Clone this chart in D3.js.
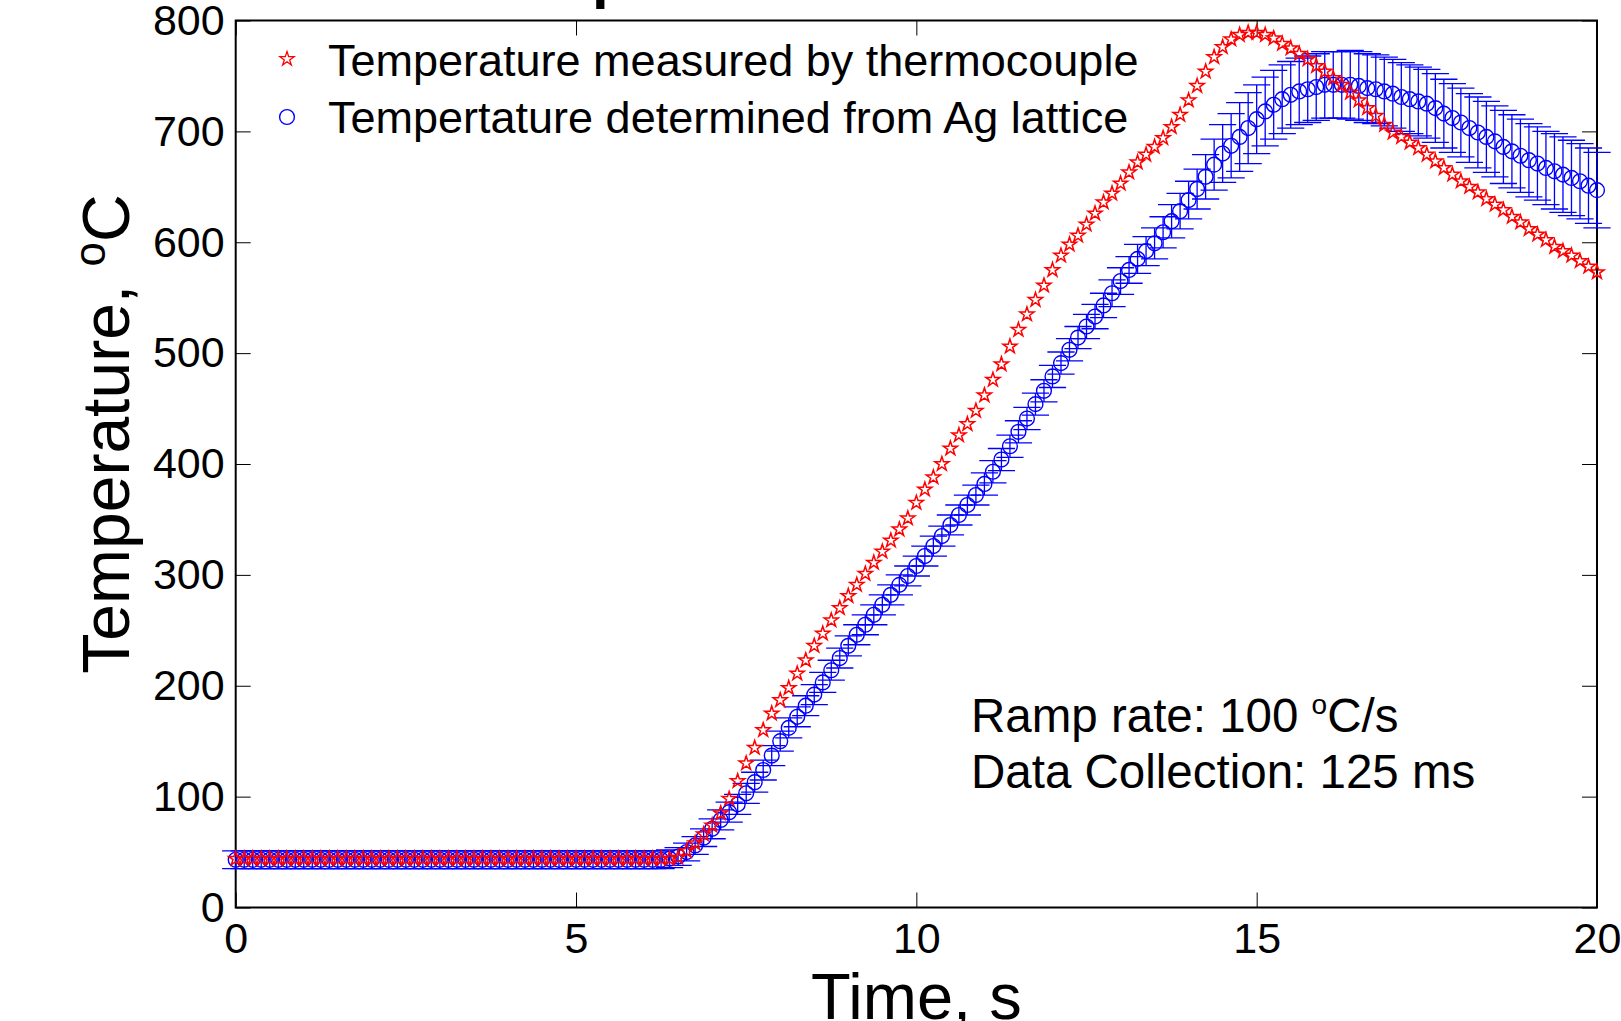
<!DOCTYPE html>
<html>
<head>
<meta charset="utf-8">
<script src="https://cdn.jsdelivr.net/npm/d3@7"></script>
<style>
  html, body { margin: 0; padding: 0; background: #ffffff; }
  svg { display: block; }
  text { font-family: "Liberation Sans", Arial, Helvetica, sans-serif; fill: #000; }
</style>
</head>
<body>
<svg id="chart" width="1621" height="1021"></svg>
<script>
// ---------------- data ----------------
const sampleInterval = 0.125; // s (data collection: 125 ms)

// Temperature measured by thermocouple (°C), one value per 125 ms, t = 0 ... 20 s
const thermocoupleT = [
  44,44,44,44,44,44,44,44,44,44,
  44,44,44,44,44,44,44,44,44,44,
  44,44,44,44,44,44,44,44,44,44,
  44,44,44,44,44,44,44,44,44,44,
  44,44,44,44,44,44,44,44,44,44,
  44,44,45,51,58,66,74,85,98,114,
  130,144,160,175,187,198,211,223,236,247,
  259,270,281,291,301,311,321,331,341,351,
  365,377,388,400,414,426,436,448,462,476,
  490,506,521,535,548,561,575,588,598,606,
  616,626,636,644,653,663,672,679,686,694,
  704,715,728,741,754,767,776,783,787,789,
  789,787,784,779,775,770,765,759,754,748,
  742,735,728,721,714,706,699,695,690,685,
  679,673,667,661,655,650,645,639,634,629,
  623,618,612,607,602,596,592,588,583,578,
  573
];

// Temperature determined from Ag lattice (°C)
const latticeT = [
  43,43,43,43,43,43,43,43,43,43,
  43,43,43,43,43,43,43,43,43,43,
  43,43,43,43,43,43,43,43,43,43,
  43,43,43,43,43,43,43,43,43,43,
  43,43,43,43,43,43,43,43,43,43,
  43,44,46,50,56,63,71,79,86,93,
  103,113,124,137,150,162,172,182,192,203,
  214,225,236,246,255,264,273,282,291,299,
  308,317,326,335,345,354,363,372,382,393,
  404,416,429,441,454,466,479,491,503,514,
  524,533,543,554,565,575,585,592,599,609,
  619,628,638,648,659,670,680,687,695,703,
  711,718,724,729,733,736,738,740,742,742,
  742,742,741,739,738,736,734,731,729,727,
  725,721,716,712,708,703,699,695,691,686,
  682,678,674,671,667,664,661,658,655,651,
  647
];

// Error (± °C) of the lattice-derived temperature
const latticeErr = [
  8,8,8,8,8,8,8,8,8,8,
  8,8,8,8,8,8,8,8,8,8,
  8,8,8,8,8,8,8,8,8,8,
  8,8,8,8,8,8,8,8,8,8,
  8,8,8,8,8,8,8,8,8,8,
  8,8,8,8,8,8,9,9,9,9,
  9,9,9,9,9,9,9,9,9,9,
  9,9,9,9,9,9,9,9,9,9,
  9,9,9,9,9,9,9,9,10,10,
  10,10,10,10,10,10,10,10,10,10,
  11,11,11,12,12,12,13,13,14,14,
  15,16,17,18,20,23,26,29,31,32,
  31,31,31,31,30,30,30,30,30,30,
  30,31,31,31,31,31,31,31,31,31,
  31,31,31,31,31,31,32,32,32,33,
  33,33,33,33,33,34,34,34,34,34,
  34
];

const xTicks = [0, 5, 10, 15, 20];
const yTicks = [0, 100, 200, 300, 400, 500, 600, 700, 800];
const legendLabels = [
  "Temperature measured by thermocouple",
  "Tempertature determined from Ag lattice"
];
const annotationLines = ["Ramp rate: 100 ", "Data Collection: 125 ms"];

// ---------------- layout ----------------
const W = 1621, H = 1021;
const plot = { left: 235.7, right: 1597, top: 20.5, bottom: 907.5 };
const teeHalf = 0.2; // s, error-bar cap half width (range/100)

const time = thermocoupleT.map((_, i) => i * sampleInterval);

const svg = d3.select("#chart");
svg.append("rect").attr("width", W).attr("height", H).attr("fill", "#fff");

const x = d3.scaleLinear().domain([0, 20]).range([plot.left, plot.right]);
const y = d3.scaleLinear().domain([0, 800]).range([plot.bottom, plot.top]);

// Clipped title (only its descender is visible)
svg.append("text")
  .attr("x", 473).attr("y", -3.3)
  .attr("font-size", 60).attr("font-weight", "bold")
  .text("Temperature vs. Time");

// ---------------- axes ----------------
const tickFont = 43;
const gx = svg.append("g").attr("transform", `translate(0,${plot.bottom})`)
  .call(d3.axisBottom(x).tickValues(xTicks).tickSize(-15).tickPadding(15).tickFormat(d3.format("d")));
const gxt = svg.append("g").attr("transform", `translate(0,${plot.top})`)
  .call(d3.axisTop(x).tickValues(xTicks).tickSize(-15).tickFormat(""));
const gy = svg.append("g").attr("transform", `translate(${plot.left},0)`)
  .call(d3.axisLeft(y).tickValues(yTicks).tickSize(-15).tickPadding(11).tickFormat(d3.format("d")));
const gyr = svg.append("g").attr("transform", `translate(${plot.right},0)`)
  .call(d3.axisRight(y).tickValues(yTicks).tickSize(-15).tickFormat(""));

[gx, gxt, gy, gyr].forEach(g => {
  g.select(".domain").remove();
  g.selectAll(".tick line").attr("stroke", "#000").attr("stroke-width", 1);
  g.selectAll(".tick text")
    .attr("font-size", tickFont)
    .attr("font-family", '"Liberation Sans", Arial, Helvetica, sans-serif')
    .attr("fill", "#000");
});

// frame
svg.append("rect")
  .attr("x", plot.left).attr("y", plot.top)
  .attr("width", plot.right - plot.left).attr("height", plot.bottom - plot.top)
  .attr("fill", "none").attr("stroke", "#000").attr("stroke-width", 2);

// axis labels
svg.append("text")
  .attr("x", (plot.left + plot.right) / 2).attr("y", 1019)
  .attr("text-anchor", "middle").attr("font-size", 65)
  .text("Time, s");

const yl = svg.append("text")
  .attr("transform", "translate(129,434) rotate(-90)")
  .attr("text-anchor", "middle").attr("font-size", 66);
yl.append("tspan").text("Temperature, ");
yl.append("tspan").attr("font-size", 44).attr("dy", -24).text("o");
yl.append("tspan").attr("dy", 24).text("C");

// ---------------- data marks ----------------
const lattice = time.map((t, i) => ({ t, v: latticeT[i], e: latticeErr[i] }));
const thermo = time.map((t, i) => ({ t, v: thermocoupleT[i] }));

const blue = "#0000ff", red = "#ff0000";

// error bars
const eb = svg.append("g").attr("stroke", blue).attr("stroke-width", 1.3).attr("fill", "none");
eb.selectAll("path").data(lattice).join("path")
  .attr("d", d => {
    const xc = x(d.t), xl = x(d.t - teeHalf), xr = x(d.t + teeHalf);
    const yt = y(d.v + d.e), yb = y(d.v - d.e);
    return `M${xc},${yt}V${yb}M${xl},${yt}H${xr}M${xl},${yb}H${xr}`;
  });

// circles
svg.append("g").selectAll("circle").data(lattice).join("circle")
  .attr("cx", d => x(d.t)).attr("cy", d => y(d.v)).attr("r", 7.4)
  .attr("fill", "none").attr("stroke", blue).attr("stroke-width", 1.4);

// stars
const starPath = d3.symbol(d3.symbolStar, 62)();
svg.append("g").selectAll("path").data(thermo).join("path")
  .attr("transform", d => `translate(${x(d.t)},${y(d.v)})`)
  .attr("d", starPath)
  .attr("fill", "none").attr("stroke", red).attr("stroke-width", 1.5);

// ---------------- legend ----------------
const legFont = 45;
const leg = svg.append("g");
leg.append("path").attr("transform", "translate(287,59)").attr("d", starPath)
  .attr("fill", "none").attr("stroke", red).attr("stroke-width", 1.3);
leg.append("circle").attr("cx", 287).attr("cy", 117).attr("r", 7.4)
  .attr("fill", "none").attr("stroke", blue).attr("stroke-width", 1.4);
leg.append("text").attr("x", 328).attr("y", 75.5).attr("font-size", legFont).text(legendLabels[0]);
leg.append("text").attr("x", 328).attr("y", 133).attr("font-size", legFont).text(legendLabels[1]);

// ---------------- annotation ----------------
const ann = svg.append("g");
const a1 = ann.append("text").attr("x", 971).attr("y", 731.7).attr("font-size", 47.5);
a1.append("tspan").text(annotationLines[0]);
a1.append("tspan").attr("font-size", 28).attr("dy", -18).text("o");
a1.append("tspan").attr("dy", 18).text("C/s");
ann.append("text").attr("x", 971).attr("y", 788.3).attr("font-size", 47.5).text(annotationLines[1]);
</script>
</body>
</html>
